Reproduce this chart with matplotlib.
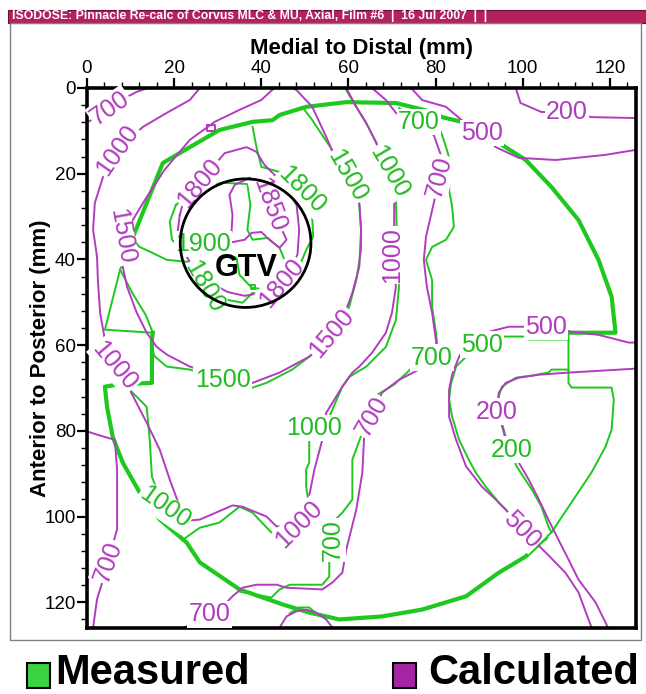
import matplotlib
matplotlib.use("Agg")
import matplotlib.pyplot as plt
from matplotlib.patches import Rectangle, Circle
from matplotlib.ticker import MultipleLocator

plt.rcParams['font.family'] = ['Liberation Sans', 'DejaVu Sans']

GREEN = '#1ec81e'
MAGENTA = '#b23cc0'

# ---- measured (film) contours, mm ----
# film edge, where several measured levels run together
edge_top = [(10.3, 35.4), (17.4, 17.5), (23.6, 13.8), (30.4, 9.8), (38.0, 7.9), (42.6, 7.5),
            (44.2, 6.3), (50.3, 4.4), (59.5, 3.3), (70.9, 3.5), (79.2, 5.6), (81.5, 6.8),
            (86.0, 7.9), (94.5, 12.8), (100.7, 16.8), (106.6, 23.1), (112.8, 30.8),
            (117.4, 40.1), (120.4, 48.7), (121.3, 57.1), (110.5, 57.1)]
edge_right = [(110.5, 57.1), (110.5, 65.7), (110.5, 68.8), (111.2, 69.9), (120.4, 69.9),
              (120.9, 72.7), (120.4, 79.7), (119.0, 83.7), (115.8, 89.7), (111.2, 96.7),
              (106.6, 103.7), (105.3, 104.9)]
edge_bottom = [(105.3, 104.9), (100.7, 109.3), (94.5, 113.1), (87.0, 118.6), (76.9, 121.7),
               (67.7, 123.3), (57.9, 124.0), (51.0, 122.4), (44.9, 120.5), (35.0, 117.0),
               (25.9, 110.7), (22.9, 106.1), (16.7, 100.7), (12.1, 94.4), (8.2, 87.4),
               (5.9, 81.4), (4.6, 74.4), (4.1, 69.7), (6.9, 69.2), (14.9, 68.8),
               (14.9, 58.7), (15.1, 57.1)]
edge_left = [(15.1, 57.1), (4.1, 56.4), (7.6, 42.4), (10.3, 35.4)]
edge_diag = [(7.6, 42.4), (10.5, 48.0), (13.5, 53.0), (15.1, 57.1)]

g1900 = [(20.4, 27.3), (24.7, 23.8), (30.9, 22.1), (36.8, 22.4), (37.5, 27.3), (36.8, 33.1),
         (38.0, 35.4), (41.4, 35.0), (44.2, 37.3), (45.8, 41.3), (44.9, 45.5), (41.4, 47.1),
         (37.8, 46.6), (35.0, 43.6), (34.3, 39.6), (28.1, 38.2), (22.0, 37.8), (19.5, 35.4),
         (19.0, 31.2), (20.4, 27.3)]
g1800 = [(38.0, 9.1), (38.9, 13.8), (40.0, 18.4), (44.2, 19.6), (49.4, 23.8), (51.7, 30.3),
         (51.9, 34.7), (50.3, 37.8), (48.7, 41.7), (47.1, 45.5), (44.2, 47.8), (41.2, 48.7),
         (38.0, 47.8), (35.7, 50.1), (32.0, 49.4), (28.8, 47.8), (27.0, 45.9), (23.6, 40.6),
         (18.3, 40.1), (15.1, 38.5), (12.1, 37.1), (10.5, 35.4)]
g1800_dot = [(37.6, 45.9), (38.5, 45.9), (38.5, 46.9), (37.6, 46.9), (37.6, 45.9)]
g1500 = [(49.4, 4.4), (51.7, 7.5), (54.0, 11.0), (56.3, 14.5), (59.7, 20.5), (62.5, 27.3),
         (62.9, 33.1), (62.9, 37.8), (61.8, 44.8), (60.2, 51.0), (57.9, 55.9), (54.5, 59.9),
         (51.0, 62.7), (47.1, 65.7), (41.2, 68.8), (36.6, 70.4), (31.1, 68.1), (23.6, 65.7),
         (18.3, 65.0), (15.6, 62.7), (14.9, 61.1)]
g1000_left = [(9.8, 70.4), (13.7, 74.4), (14.4, 82.1), (14.9, 90.7), (16.0, 93.7), (17.8, 97.9),
              (20.6, 103.0), (22.0, 105.4), (25.9, 102.6), (30.4, 101.4), (35.0, 97.7),
              (38.0, 99.1), (42.3, 103.7)]
g1000_right = [(51.0, 97.7), (50.3, 93.0), (50.3, 89.0), (51.0, 87.4), (51.0, 81.6), (52.2, 79.3),
               (55.6, 76.7), (58.6, 69.7), (60.2, 67.4), (64.1, 65.0), (68.6, 60.4), (70.9, 54.1),
               (71.6, 46.4), (71.2, 37.8), (70.9, 26.1), (69.3, 19.6), (66.4, 12.8), (64.1, 8.2),
               (61.8, 4.4), (59.5, 0.5)]
g700 = [(71.6, 4.7), (76.2, 7.9), (80.8, 9.3), (81.5, 11.0), (82.4, 13.8), (83.5, 17.5),
        (83.1, 23.8), (83.8, 27.7), (84.2, 32.4), (82.4, 35.4), (79.2, 37.1), (77.8, 40.1),
        (79.2, 44.8), (79.2, 51.0), (80.1, 57.1), (80.3, 59.4), (79.2, 62.9), (74.6, 65.3),
        (70.5, 69.2), (66.6, 71.6), (64.3, 75.1), (63.2, 80.4), (60.9, 86.7), (60.9, 96.0),
        (58.6, 99.1), (56.3, 101.4), (56.3, 105.4), (55.6, 110.7), (55.6, 114.0), (54.0, 115.9),
        (46.5, 115.9), (44.2, 117.0), (42.3, 118.9), (35.0, 117.5)]
g700_bump = [(46.5, 122.6), (48.7, 121.2), (51.0, 121.2), (52.6, 122.6)]
g500 = [(110.5, 58.7), (101.4, 58.7), (100.7, 58.0), (95.7, 58.0), (90.6, 59.9), (87.0, 62.7),
        (84.7, 65.0), (83.5, 69.2), (83.1, 72.7), (83.8, 76.7), (85.4, 82.1), (87.6, 86.7),
        (89.2, 89.7), (91.5, 93.0), (94.5, 96.7), (98.4, 100.7), (102.1, 103.7), (105.3, 105.4)]
g200 = [(110.5, 65.7), (106.6, 65.7), (105.9, 66.4), (102.1, 67.1), (98.4, 67.6), (95.2, 69.7),
        (94.5, 72.0), (95.0, 77.4), (96.3, 82.1), (97.5, 84.4), (98.4, 87.9), (99.5, 89.7),
        (102.1, 93.7), (104.3, 97.7), (105.9, 102.3), (106.6, 103.7)]

# ---- calculated (Pinnacle) contours, mm ----
m1850 = [(37.3, 21.0), (33.9, 22.6), (32.7, 24.9), (33.4, 29.6), (33.2, 33.1), (32.7, 36.1),
         (36.2, 35.4), (37.8, 33.8), (40.0, 33.6), (41.9, 35.4), (44.2, 37.3), (45.8, 35.4),
         (44.2, 31.9), (42.1, 27.3), (40.3, 23.1), (37.3, 21.0)]
m1800 = [(21.3, 29.6), (22.4, 25.6), (25.9, 21.9), (29.3, 17.9), (31.6, 15.2), (36.6, 13.8),
         (38.9, 14.9), (40.7, 17.9), (45.3, 22.6), (48.1, 27.3), (48.7, 33.1), (48.3, 38.9),
         (44.6, 45.5), (40.0, 47.8), (36.2, 48.5), (32.3, 47.6), (28.6, 45.7), (25.9, 42.9),
         (23.6, 40.6), (21.7, 37.3), (20.8, 33.6), (21.3, 29.6)]
m_box = [(27.5, 8.6), (29.3, 8.6), (29.3, 10.0), (27.5, 10.0), (27.5, 8.6)]
m1500 = [(43.0, 0.0), (40.0, 2.8), (35.0, 5.1), (29.3, 7.9), (23.6, 12.1), (17.8, 19.1),
         (13.3, 26.1), (10.5, 30.8), (7.9, 34.7), (8.2, 41.7), (9.2, 46.4), (11.4, 52.4),
         (13.7, 57.1), (16.0, 60.4), (18.3, 62.2), (23.6, 65.0), (29.3, 66.9), (35.0, 68.1),
         (38.0, 68.8), (44.2, 66.4), (51.0, 62.7), (56.1, 57.1), (59.5, 51.7), (60.9, 47.8),
         (62.5, 41.7), (62.9, 33.1), (62.5, 26.8), (59.5, 20.7), (57.2, 16.8), (54.9, 11.4),
         (51.7, 4.4), (48.1, 0.5), (47.1, 0.0)]
m1000 = [(25.9, 0.0), (23.6, 2.8), (18.3, 5.8), (12.8, 9.1), (6.9, 14.5), (3.7, 20.7),
         (1.8, 26.8), (1.4, 33.1), (2.3, 39.4), (2.5, 44.8), (3.0, 52.4), (4.1, 58.7),
         (6.4, 64.8), (9.8, 70.4), (13.7, 78.1), (16.7, 84.4), (19.0, 91.4), (21.3, 97.7),
         (23.6, 100.9), (25.9, 100.7), (33.4, 97.4), (35.7, 97.7), (41.2, 100.0), (43.5, 102.3),
         (48.7, 101.9), (50.6, 97.2), (52.2, 89.0), (54.0, 82.1), (54.9, 75.8), (58.6, 69.7),
         (60.9, 66.4), (62.5, 65.0), (65.4, 61.8), (68.6, 57.1), (70.0, 52.4), (70.9, 46.4),
         (70.0, 38.9), (70.5, 32.4), (70.5, 26.1), (68.1, 19.1), (66.4, 12.8), (64.1, 8.2),
         (61.8, 4.4), (59.5, 0.0)]
m700_tl = [(0.2, 7.9), (2.3, 6.8), (5.3, 4.7), (8.2, 2.6), (11.4, 0.9), (14.0, 0.0)]
m700_left = [(0.2, 80.2), (3.0, 81.1), (6.4, 82.1), (6.9, 89.0), (6.9, 103.0), (5.7, 107.2),
             (4.8, 110.5), (3.7, 114.7), (2.3, 119.3), (1.4, 125.9)]
m700 = [(65.4, 0.0), (68.6, 2.8), (70.9, 5.8), (76.2, 8.6), (79.6, 11.0), (81.2, 15.6),
        (80.8, 20.7), (79.6, 26.8), (77.8, 34.7), (77.3, 40.1), (78.0, 46.4), (79.2, 52.4),
        (80.3, 60.4), (79.9, 63.4), (76.2, 65.7), (71.6, 68.1), (67.7, 71.1), (65.4, 76.7),
        (63.6, 81.4), (63.2, 89.7), (61.8, 98.4), (59.5, 107.7), (58.6, 113.1), (56.3, 115.4),
        (54.0, 117.0), (45.8, 116.6), (43.5, 115.9), (38.9, 115.9), (35.7, 116.6), (33.4, 118.6),
        (31.1, 121.0), (28.1, 122.8), (24.7, 124.5), (22.4, 125.9)]
m700_bump = [(44.2, 125.9), (45.8, 123.3), (48.1, 122.1), (50.3, 121.7), (52.6, 122.4),
             (54.9, 124.0), (56.3, 125.9)]
m500_top = [(74.4, 0.0), (76.9, 2.8), (82.4, 4.4), (86.0, 7.5), (90.6, 10.5), (93.8, 13.8),
            (99.1, 16.3), (107.6, 16.8), (119.0, 15.6), (125.6, 14.5)]
m500 = [(125.6, 59.4), (124.3, 59.4), (117.4, 57.6), (111.2, 56.9), (105.3, 55.7), (99.8, 55.7),
        (96.8, 55.7), (92.2, 56.9), (87.6, 58.7), (85.4, 62.7), (83.8, 66.9), (83.1, 70.4),
        (83.1, 76.7), (84.7, 82.1), (87.0, 88.3), (90.6, 93.0), (93.8, 96.0), (96.1, 98.4),
        (99.8, 103.0), (105.3, 108.4), (109.8, 113.1), (112.8, 117.7), (115.1, 124.0),
        (115.8, 125.9)]
m200_top = [(98.4, 0.0), (99.5, 3.5), (104.3, 5.6), (110.1, 5.6), (115.8, 6.8), (125.6, 7.0)]
m200 = [(125.6, 65.5), (117.4, 66.0), (110.5, 66.4), (103.7, 66.9), (99.1, 67.6), (96.1, 68.8),
        (94.5, 71.1), (94.1, 75.5), (95.2, 78.6), (96.1, 82.1), (99.1, 87.4), (101.4, 91.4),
        (103.7, 96.0), (105.9, 100.7), (108.2, 105.4), (110.5, 110.0), (112.8, 114.7),
        (116.7, 120.0), (119.0, 124.7), (119.7, 126.3)]

measured_thick = [edge_top, edge_bottom]
measured_thin = [edge_right, edge_left, edge_diag, g1900, g1800, g1800_dot, g1500,
                 g1000_left, g1000_right, g700, g700_bump, g500, g200]
calculated = [m1850, m1800, m_box, m1500, m1000, m700_tl, m700_left, m700, m700_bump,
              m500_top, m500, m200_top, m200]

# contour labels: text, x, y, rotation
green_labels = [("1900", 26.6, 36.4, 0), ("1800", 49.4, 23.8, -45), ("1800", 27.0, 46.4, -60),
                ("1500", 59.7, 20.5, -60), ("1500", 31.1, 68.1, 0), ("1000", 69.3, 19.6, -60),
                ("1000", 52.2, 79.3, 0), ("1000", 17.8, 97.9, -35), ("700", 76.2, 7.9, 0),
                ("700", 79.2, 62.9, 0), ("700", 56.3, 105.4, 90), ("500", 90.6, 59.9, 0),
                ("200", 97.5, 84.4, 0)]
magenta_labels = [("1850", 41.9, 27.3, -70), ("1800", 25.9, 22.1, 50), ("1800", 44.6, 45.5, 50),
                  ("1500", 7.9, 34.7, -80), ("1500", 56.1, 57.1, 50), ("1000", 6.9, 14.5, 55),
                  ("1000", 6.4, 64.8, -50), ("1000", 48.7, 101.9, 45), ("1000", 70.0, 38.9, 90),
                  ("700", 5.3, 4.7, 35), ("700", 80.8, 20.7, 75), ("700", 65.4, 76.7, 60),
                  ("700", 28.1, 122.8, 0), ("700", 4.8, 110.5, 70), ("500", 90.6, 10.5, 0),
                  ("500", 105.3, 55.7, 0), ("500", 99.8, 103.0, -45), ("200", 110.1, 5.6, 0),
                  ("200", 94.1, 75.5, 0)]

gtv_center = (36.4, 36.2)
gtv_radius = 15.0

W, H = 646, 694
fig = plt.figure(figsize=(W / 100, H / 100), dpi=100)
ax = fig.add_axes([87 / W, 1 - 628 / H, 549 / W, 540 / H])

for line in measured_thick:
    xs, ys = zip(*line)
    ax.plot(xs, ys, color=GREEN, lw=3.0, solid_joinstyle='round', zorder=2)
for line in measured_thin:
    xs, ys = zip(*line)
    ax.plot(xs, ys, color=GREEN, lw=1.4, zorder=2)
for line in calculated:
    xs, ys = zip(*line)
    ax.plot(xs, ys, color=MAGENTA, lw=1.4, zorder=2)

box = dict(boxstyle='square,pad=0.05', fc='white', ec='none')
for labels, col in ((green_labels, '#22bb22'), (magenta_labels, '#b03cbe')):
    for s, x, y, r in labels:
        ax.text(x, y, s, color=col, fontsize=18, rotation=r, rotation_mode='anchor',
                ha='center', va='center', bbox=box, zorder=3)

ax.add_patch(Circle(gtv_center, gtv_radius, fill=False, ec='black', lw=2.0, zorder=4))
ax.text(36.6, 42.0, "GTV", fontsize=22, fontweight='bold', ha='center', va='center', zorder=5)

ax.set_xlim(0, 126)
ax.set_ylim(126, 0)
ax.xaxis.tick_top()
ax.xaxis.set_label_position('top')
ax.xaxis.set_major_locator(MultipleLocator(20))
ax.yaxis.set_major_locator(MultipleLocator(20))
ax.xaxis.set_minor_locator(MultipleLocator(4))
ax.yaxis.set_minor_locator(MultipleLocator(4))
ax.tick_params(which='major', length=7, width=1.6, labelsize=13.5, pad=1)
ax.tick_params(which='minor', length=4, width=1.0)
for sp in ax.spines.values():
    sp.set_linewidth(2.6)
ax.set_xlabel("Medial to Distal (mm)", fontsize=16, fontweight='bold', labelpad=4)
ax.set_ylabel("Anterior to Posterior (mm)", fontsize=16, fontweight='bold', labelpad=-5)

# header bar and outer frame
fig.patches.append(Rectangle((8 / W, 1 - 23 / H), 638 / W, 13 / H, transform=fig.transFigure,
                             fc='#b5205f', ec='#6a1036', lw=0.8))
fig.text(12 / W, 1 - 16.5 / H,
         "ISODOSE: Pinnacle Re-calc of Corvus MLC & MU, Axial, Film #6  |  16 Jul 2007  |  |",
         color='white', fontsize=8.8, fontweight='bold', va='center', ha='left')
fig.patches.append(Rectangle((10 / W, 1 - 640 / H), 631 / W, 617 / H, transform=fig.transFigure,
                             fill=False, ec='#808080', lw=1.0))

# legend
fig.patches.append(Rectangle((27 / W, 1 - 688 / H), 23 / W, 25 / H, transform=fig.transFigure,
                             fc='#39d43f', ec='black', lw=1.5))
fig.patches.append(Rectangle((393 / W, 1 - 688 / H), 23 / W, 25 / H, transform=fig.transFigure,
                             fc='#a524a5', ec='black', lw=1.5))
fig.text(55 / W, 1 - 693 / H, "Measured", fontsize=30, fontweight='bold', va='bottom')
fig.text(428 / W, 1 - 693 / H, "Calculated", fontsize=30, fontweight='bold', va='bottom')

fig.savefig("out.png", dpi=100)
